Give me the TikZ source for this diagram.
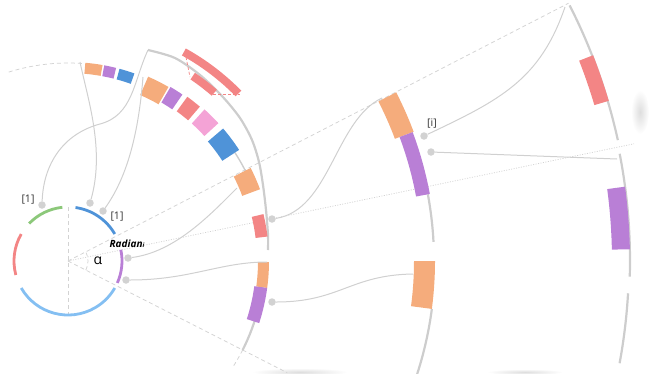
\documentclass[tikz,border=0pt]{standalone}
\usepackage{fontspec}
\setmainfont{Open Sans}
\usetikzlibrary{calc}
\definecolor{cOrange}{HTML}{F5AC7C}
\definecolor{cPurple}{HTML}{B97FD6}
\definecolor{cBlue}{HTML}{4F93D8}
\definecolor{cRed}{HTML}{F38585}
\definecolor{cPink}{HTML}{F4A3D6}
\definecolor{cGreen}{HTML}{8CC87A}
\definecolor{cLBlue}{HTML}{84BFF2}
\definecolor{ringgray}{HTML}{CDCDCD}
\definecolor{conngray}{HTML}{D0D0D0}
\definecolor{guidegray}{HTML}{D3D3D3}
\definecolor{dotgray}{HTML}{D2D2D2}
\definecolor{labelgray}{HTML}{333333}
\newcommand{\blk}[5]{\fill[#1] ($(C)+(#2:#4)$) arc[start angle=#2,end angle=#3,radius=#4] -- ($(C)+(#3:#5)$) arc[start angle=#3,end angle=#2,radius=#5] -- cycle;}
\newcommand{\rarc}[4]{\draw[#1] ($(C)+(#2:#4)$) arc[start angle=#2,end angle=#3,radius=#4];}
\begin{document}
\begin{tikzpicture}[x=1pt,y=1pt,
  ring/.style={draw=ringgray,line width=2.2pt},
  thinring/.style={draw=ringgray,line width=1.4pt},
  conn/.style={draw=conngray,line width=1pt},
  guide/.style={draw=guidegray,line width=0.75pt,dash pattern=on 4pt off 3pt},
  dotted guide/.style={draw=guidegray,line width=0.75pt,dash pattern=on 1pt off 1.5pt},
  circarc/.style={line width=2.8pt},
  dot/.style={circle,fill=dotgray,inner sep=0pt,minimum size=7.5pt},
  lbl/.style={font=\fontsize{10.5}{12}\selectfont,text=labelgray,inner sep=0pt},
  shadow/.style={inner color=black!13,outer color=white}]
\useasboundingbox (0,0) rectangle (652,-373);
\coordinate (C) at (68,-261);
% soft page shadows
\shade[shadow] (640,-112) ellipse [x radius=9,y radius=22];
\shade[shadow] (300,-372) ellipse [x radius=48,y radius=4];
\shade[shadow] (525,-372) ellipse [x radius=38,y radius=3];
% guide lines
\draw[guide] ($(C)+(90:54)$) -- ($(C)+(270:54)$);
\draw[guide] (C) -- ($(C)+(27.25:563)$);
\draw[guide] (C) -- ($(C)+(-27:246)$);
\draw[dotted guide] (C) -- ($(C)+(11.7:578)$);
\rarc{guide}{-27}{27}{20}
\rarc{guide}{86}{108}{198}
\rarc{guide}{-27}{-33}{196}
% small circle
\rarc{circarc,cGreen}{96}{136}{54}
\rarc{circarc,cRed}{150}{195}{54}
\rarc{circarc,cLBlue}{210}{330}{54}
\rarc{circarc,cPurple}{-24}{12}{54}
\rarc{circarc,cBlue}{30}{82}{54}
% ring 1
\draw[ring] plot[smooth] coordinates {(148,-50) (175,-58) (200,-75) (222,-96) (240,-118) (252,-140) (259,-162) (263,-185) (266,-210) (268,-235) (268,-250)};
\rarc{thinring}{33}{24}{199}
\rarc{ring}{-0.3}{-27}{196}
\blk{cOrange}{85}{80}{188}{199}
\blk{cPurple}{79.5}{76}{188}{199}
\blk{cBlue}{75}{70.5}{188}{199}
\blk{cOrange}{66.5}{60}{181}{201}
\blk{cPurple}{59.5}{55.5}{184}{202}
\blk{cRed}{54}{49.5}{185}{203}
\blk{cPink}{48}{42.5}{185}{204}
\blk{cBlue}{40.5}{33}{184}{204}
\blk{cOrange}{27}{20.5}{186}{205}
\blk{cRed}{13.5}{7}{189}{201}
\blk{cOrange}{-0.3}{-7.7}{190}{201}
\blk{cPurple}{-7.7}{-18}{188}{201}
% red zoom bars
\blk{cRed}{61}{44.5}{235}{243}
\blk{cRed}{56}{49}{219}{227}
\draw[cRed,line width=0.7pt,dash pattern=on 3pt off 2pt] (186,-57) -- (190,-77);
\draw[cRed,line width=0.7pt,dash pattern=on 3pt off 2pt] (213,-94) -- (240,-94);
% ring 2
\rarc{ring}{10.5}{3}{366}
\rarc{ring}{-7.5}{-18}{367}
\blk{cOrange}{27.2}{20.5}{349}{369}
\blk{cPurple}{20.5}{10.5}{354}{368}
\blk{cOrange}{0}{-7.5}{346}{367}
% ring 3
\rarc{ring}{27}{12.4}{563}
\rarc{ring}{11}{-1.6}{562}
\rarc{ring}{-3.3}{-10.5}{561}
\blk{cRed}{21.4}{16.5}{549}{564}
\blk{cPurple}{7.6}{1.2}{544}{562}
% dots
\node[dot] (d1) at (42,-205) {};
\node[dot] (d2) at (90,-203) {};
\node[dot] (d3) at (103,-211) {};
\node[dot] (d4) at (128,-258) {};
\node[dot] (d5) at (126,-280) {};
\node[dot] (d6) at (272,-219) {};
\node[dot] (d7) at (272,-302) {};
\node[dot] (d8) at (424,-136) {};
\node[dot] (d9) at (431,-152) {};
% connector ends
\coordinate (e1) at (148,-50);
\coordinate (e2) at (80,-62);
\coordinate (e3) at (143,-77);
\coordinate (e4) at (237,-188);
\coordinate (e5) at (267,-262);
\coordinate (e6) at (382,-98);
\coordinate (e7) at (413,-274);
\coordinate (e8) at (565,-7);
\coordinate (e9) at (617,-159);
\draw[conn] (d1) to[out=88,in=195] (100,-124) to[out=15,in=245] (e1);
\draw[conn] (d2) .. controls (105,-150) and (88,-100) .. (e2);
\draw[conn] (d3) .. controls (125,-180) and (138,-140) .. (e3);
\draw[conn] (d4) .. controls (175,-252) and (210,-215) .. (e4);
\draw[conn] (d5) .. controls (190,-280) and (220,-262) .. (e5);
\draw[conn] (d6) .. controls (330,-210) and (335,-120) .. (e6);
\draw[conn] (d7) .. controls (340,-302) and (350,-275) .. (e7);
\draw[conn] (d8) .. controls (500,-100) and (540,-80) .. (e8);
\draw[conn] (d9) -- (e9);
% labels
\node[lbl] (l1) at (28,-200) {[1]};
\node[lbl] (l2) at (117,-217) {[1]};
\node[lbl] (l3) at (432,-123) {[i]};
\node[lbl,font=\fontsize{10}{12}\selectfont\bfseries\itshape,text=black] (rad) at (127,-244) {Radian{\fontsize{6}{7}\selectfont i}};
\node[lbl,font=\fontsize{14}{15}\selectfont,text=black] (alpha) at (98,-261) {α};
\end{tikzpicture}
\end{document}
